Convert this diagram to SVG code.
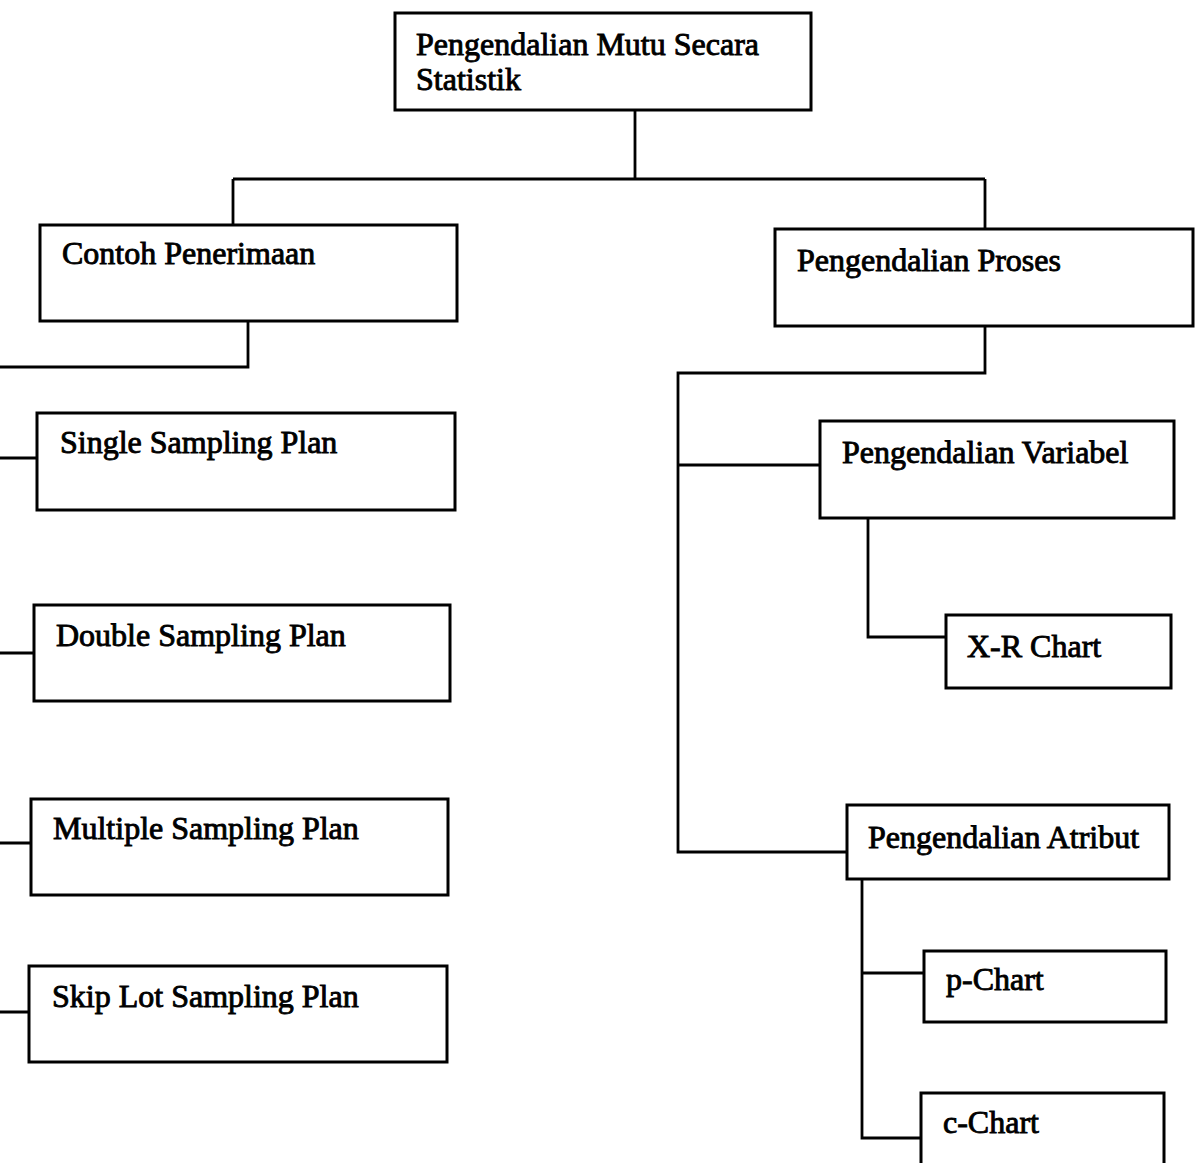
<svg xmlns="http://www.w3.org/2000/svg" width="1196" height="1163" viewBox="0 0 1196 1163">
  <style>
    .box { fill: #ffffff; stroke: #000000; stroke-width: 3; }
    .lbl { font-family: "Liberation Serif", "Times New Roman", serif; font-size: 32px; fill: #000000; stroke: #000000; stroke-width: 0.9; }
    .wire { fill: none; stroke: #000000; stroke-width: 2.8; stroke-linejoin: miter; }
  </style>
  <rect x="0" y="0" width="1196" height="1163" fill="#ffffff"/>

  <!-- connectors -->
  <g id="connectors">
    <path class="wire" d="M635 110 V179 M233 179 H985 M233 179 V225 M985 179 V229"/>
    <path class="wire" d="M248 320 V367 H0"/>
    <path class="wire" d="M0 458 H37 M0 653 H34 M0 843 H31 M0 1012 H29"/>
    <path class="wire" d="M985 326 V373 H678 V852 H847 M678 465 H820"/>
    <path class="wire" d="M868 518 V637 H946"/>
    <path class="wire" d="M862 879 V1138 H921 M862 973 H924"/>
  </g>

  <!-- root -->
  <g id="node-root">
    <rect class="box" x="395" y="13" width="416" height="97"/>
    <text class="lbl" x="416" y="55">Pengendalian Mutu Secara</text>
    <text class="lbl" x="416" y="90">Statistik</text>
  </g>

  <!-- acceptance sampling branch -->
  <g id="node-contoh">
    <rect class="box" x="40" y="225" width="417" height="96"/>
    <text class="lbl" x="62" y="264">Contoh Penerimaan</text>
  </g>
  <g id="node-single">
    <rect class="box" x="37" y="413" width="418" height="97"/>
    <text class="lbl" x="60" y="453">Single Sampling Plan</text>
  </g>
  <g id="node-double">
    <rect class="box" x="34" y="605" width="416" height="96"/>
    <text class="lbl" x="56" y="646">Double Sampling Plan</text>
  </g>
  <g id="node-multiple">
    <rect class="box" x="31" y="799" width="417" height="96"/>
    <text class="lbl" x="53" y="839">Multiple Sampling Plan</text>
  </g>
  <g id="node-skiplot">
    <rect class="box" x="29" y="966" width="418" height="96"/>
    <text class="lbl" x="52" y="1007">Skip Lot Sampling Plan</text>
  </g>

  <!-- process control branch -->
  <g id="node-proses">
    <rect class="box" x="775" y="229" width="418" height="97"/>
    <text class="lbl" x="797" y="271">Pengendalian Proses</text>
  </g>
  <g id="node-variabel">
    <rect class="box" x="820" y="421" width="354" height="97"/>
    <text class="lbl" x="842" y="463">Pengendalian Variabel</text>
  </g>
  <g id="node-xr">
    <rect class="box" x="946" y="615" width="225" height="73"/>
    <text class="lbl" x="967" y="657">X-R Chart</text>
  </g>
  <g id="node-atribut">
    <rect class="box" x="847" y="805" width="322" height="74"/>
    <text class="lbl" x="868" y="848">Pengendalian Atribut</text>
  </g>
  <g id="node-p">
    <rect class="box" x="924" y="951" width="242" height="71"/>
    <text class="lbl" x="946" y="990">p-Chart</text>
  </g>
  <g id="node-c">
    <rect class="box" x="921" y="1093" width="243" height="90"/>
    <text class="lbl" x="943" y="1133">c-Chart</text>
  </g>
</svg>
